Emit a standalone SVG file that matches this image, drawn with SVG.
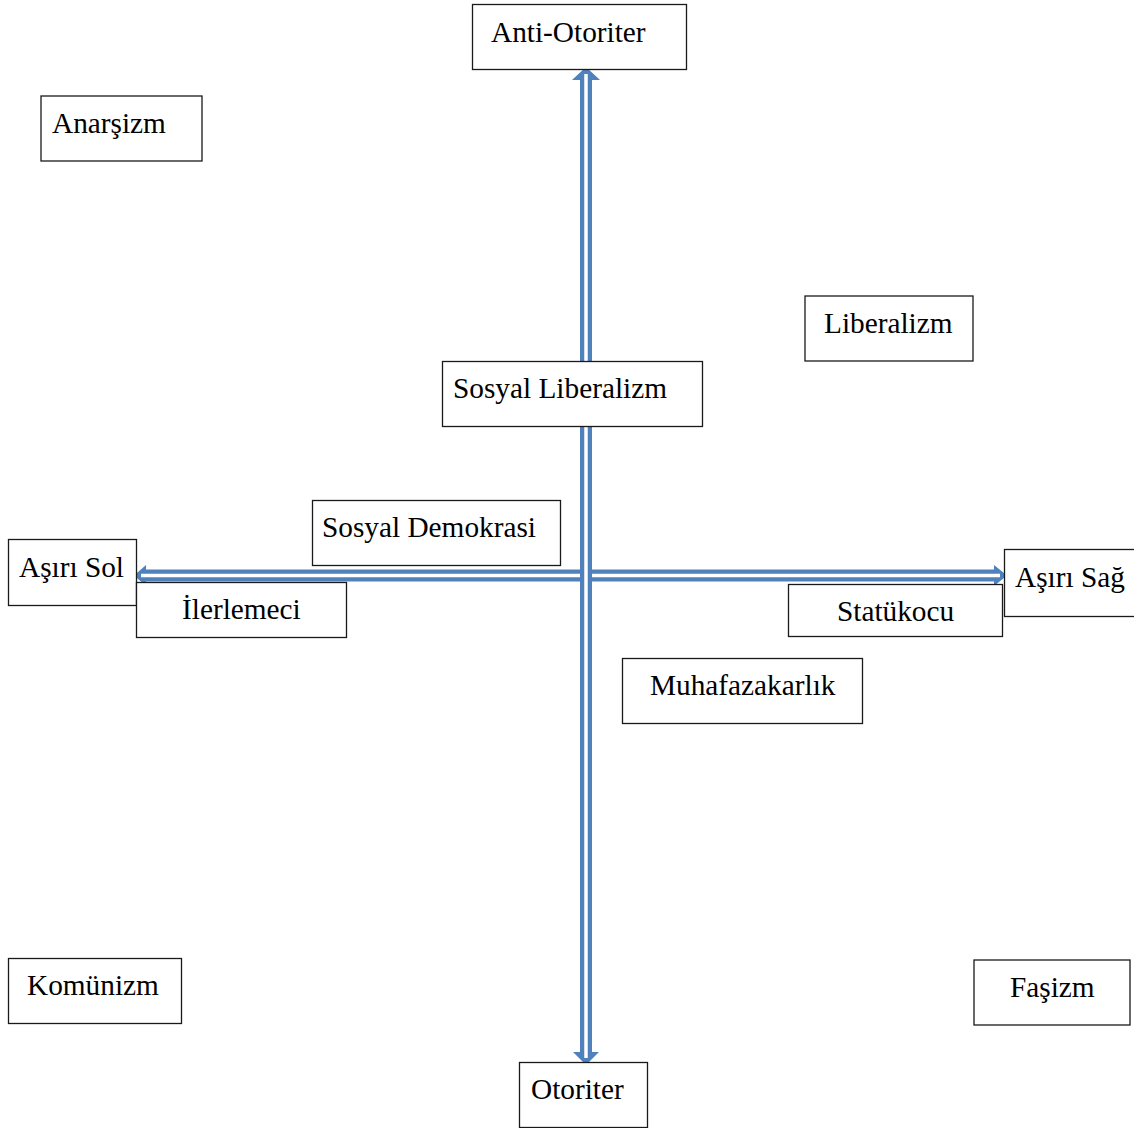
<svg xmlns="http://www.w3.org/2000/svg" width="1134" height="1128" viewBox="0 0 1134 1128">
<style>
.box{fill:#fff;stroke:#1a1a1a;stroke-width:1.3}
.lbl{font-family:"Liberation Serif","Times New Roman",serif;font-size:29.3px;fill:#000}
.ax{stroke:#4f81bd;stroke-width:12;fill:none}
.ax-in{stroke:#fff;stroke-width:3.5;fill:none}
.hd{fill:#4f81bd}
</style>
<rect width="1134" height="1128" fill="#fff"/>
<g id="connectors">
  <g id="horizontal-axis">
    <line class="ax" x1="142" y1="575.5" x2="998" y2="575.5"/>
    <polygon class="hd" points="134,575.5 146,565 146,586"/>
    <polygon class="hd" points="1007,575.5 994,565 994,586"/>
    <line class="ax-in" x1="141" y1="575.5" x2="1000" y2="575.5"/>
  </g>
  <g id="vertical-axis">
    <line class="ax" x1="586" y1="77" x2="586" y2="1054"/>
    <polygon class="hd" points="586,67 572,80 600,80"/>
    <polygon class="hd" points="586,1065 573,1052 599,1052"/>
    <line class="ax-in" x1="586" y1="74" x2="586" y2="1058"/>
  </g>
</g>
<g id="anti-otoriter"><rect class="box" x="472.5" y="4.5" width="214" height="65"/><text class="lbl" x="491" y="42">Anti-Otoriter</text></g>
<g id="anarsizm"><rect class="box" x="41" y="96" width="161" height="65"/><text class="lbl" x="52" y="133">Anarşizm</text></g>
<g id="liberalizm"><rect class="box" x="805" y="296" width="168" height="65"/><text class="lbl" x="824" y="333">Liberalizm</text></g>
<g id="sosyal-liberalizm"><rect class="box" x="442.5" y="361.5" width="260" height="65"/><text class="lbl" x="453" y="398">Sosyal Liberalizm</text></g>
<g id="sosyal-demokrasi"><rect class="box" x="312.5" y="500.5" width="248" height="65"/><text class="lbl" x="322" y="537">Sosyal Demokrasi</text></g>
<g id="asiri-sol"><rect class="box" x="8.5" y="539.5" width="128" height="66"/><text class="lbl" x="19" y="577">Aşırı Sol</text></g>
<g id="ilerlemeci"><rect class="box" x="136.5" y="582.5" width="210" height="55"/><text class="lbl" x="182" y="619">İlerlemeci</text></g>
<g id="asiri-sag"><rect class="box" x="1004.5" y="549.5" width="135" height="67"/><text class="lbl" x="1015" y="587">Aşırı Sağ</text></g>
<g id="statukocu"><rect class="box" x="788.5" y="584.5" width="214" height="52"/><text class="lbl" x="837" y="621">Statükocu</text></g>
<g id="muhafazakarlik"><rect class="box" x="622.5" y="658.5" width="240" height="65"/><text class="lbl" x="650" y="695">Muhafazakarlık</text></g>
<g id="komunizm"><rect class="box" x="8.5" y="958.5" width="173" height="65"/><text class="lbl" x="27" y="995">Komünizm</text></g>
<g id="fasizm"><rect class="box" x="974" y="960" width="156" height="65"/><text class="lbl" x="1010" y="997">Faşizm</text></g>
<g id="otoriter"><rect class="box" x="519.5" y="1062.5" width="128" height="65"/><text class="lbl" x="531" y="1099">Otoriter</text></g>
</svg>
